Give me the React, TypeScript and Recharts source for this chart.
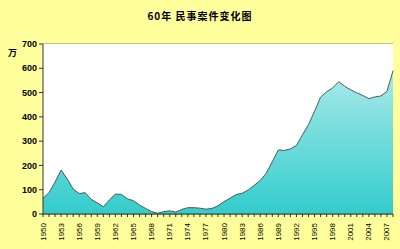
import { AreaChart, Area, XAxis, YAxis, CartesianGrid } from "recharts";

const years = [
  1950, 1951, 1952, 1953, 1954, 1955, 1956, 1957, 1958, 1959,
  1960, 1961, 1962, 1963, 1964, 1965, 1966, 1967, 1968, 1969,
  1970, 1971, 1972, 1973, 1974, 1975, 1976, 1977, 1978, 1979,
  1980, 1981, 1982, 1983, 1984, 1985, 1986, 1987, 1988, 1989,
  1990, 1991, 1992, 1993, 1994, 1995, 1996, 1997, 1998, 1999,
  2000, 2001, 2002, 2003, 2004, 2005, 2006, 2007, 2008,
];

// 民事案件 (万件)
const cases = [
  65, 88, 132, 181, 145, 103, 84, 88, 60, 46,
  30, 58, 82, 81, 62, 55, 37, 23, 10, 3,
  10, 13, 8, 19, 26, 26, 24, 20, 23, 34,
  51, 65, 80, 85, 99, 118, 138, 168, 216, 264,
  262, 268, 282, 326, 368, 423, 481, 503, 519, 545,
  526, 511, 499, 488, 475, 482, 486, 505, 590,
];

const yTicks = [0, 100, 200, 300, 400, 500, 600, 700];

const data = years.map((y, i) => ({ year: y, value: cases[i] }));

const font = "'Liberation Sans', Arial, sans-serif";

function YearTick(props: any) {
  const { x, y, index, payload } = props;
  if (index % 3 !== 0) return null;
  return (
    <text
      x={x}
      y={y + 4}
      transform={`rotate(-90, ${x}, ${y + 4})`}
      textAnchor="end"
      dominantBaseline="central"
      fontSize={8}
      fontFamily={font}
      fill="#000"
    >
      {payload.value}
    </text>
  );
}

export default function App() {
  return (
    <div
      style={{
        position: "fixed",
        left: 0,
        top: 0,
        width: 400,
        height: 249,
        background: "#ffff9c",
        fontFamily: font,
      }}
    >
      <div
        style={{
          position: "absolute",
          top: 8,
          width: 400,
          textAlign: "center",
          fontSize: 10,
          letterSpacing: 1,
          fontWeight: "bold",
          fontFamily: "'Noto Sans CJK SC', sans-serif",
        }}
      >
        60年 民事案件变化图
      </div>
      <div
        style={{
          position: "absolute",
          left: 8,
          top: 46,
          fontSize: 9,
          fontWeight: "bold",
          fontFamily: "'Noto Sans CJK SC', sans-serif",
        }}
      >
        万
      </div>
      <AreaChart
        width={400}
        height={249}
        data={data}
        margin={{ top: 44, right: 7, left: 0, bottom: 0 }}
      >
        <defs>
          <linearGradient id="fillGrad" x1="0" y1="0" x2="0" y2="1">
            <stop offset="0%" stopColor="#aaeaea" />
            <stop offset="100%" stopColor="#33cccc" />
          </linearGradient>
        </defs>
        <rect x={43} y={44} width={350} height={170} fill="#fff" />
        <CartesianGrid vertical={false} stroke="#808080" strokeWidth={1} />
        <XAxis
          dataKey="year"
          interval={0}
          height={35}
          tick={<YearTick />}
          tickSize={3}
          tickLine={{ stroke: "#333" }}
          axisLine={{ stroke: "#333" }}
        />
        <YAxis
          domain={[0, 700]}
          ticks={yTicks}
          width={43}
          tickSize={4}
          tick={{ fontSize: 9, fontWeight: "bold", fill: "#000", fontFamily: font }}
          tickLine={{ stroke: "#333" }}
          axisLine={{ stroke: "#333" }}
        />
        <YAxis
          yAxisId="r"
          orientation="right"
          width={0}
          tick={false}
          tickLine={false}
          axisLine={{ stroke: "#808080" }}
        />
        <Area
          type="linear"
          dataKey="value"
          stroke="#4d5a5a"
          strokeWidth={1}
          fill="url(#fillGrad)"
          fillOpacity={1}
          isAnimationActive={false}
        />
      </AreaChart>
    </div>
  );
}
